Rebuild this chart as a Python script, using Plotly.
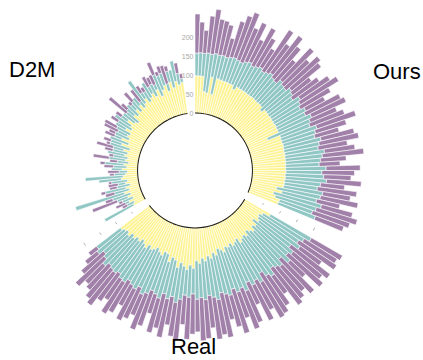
import plotly.graph_objects as go

groups = ["Ours", "Real", "D2M"]

# layer thickness per bar (inner yellow, middle teal, outer purple), clockwise from top
ours_yellow = [100,100,99,60,57,100,55,99,98,97,97,96,96,87,96,95,95,95,94,94,95,94,93,94,93,84,93,93,92,93,
               92,92,93,92,92,58,92,91,91,92,91,90,91,90,90,90,89,89,90,88,89,88,88,87,70,86,65,72,86,85]
ours_teal = [60,61,61,102,103,63,106,63,62,66,68,66,64,79,74,69,73,77,72,76,80,74,72,84,79,86,87,82,76,92,
             86,80,89,84,96,122,83,99,92,86,101,95,89,105,98,92,89,107,95,102,109,95,88,105,118,94,131,113,92,105]
ours_purple = [103,81,61,98,119,92,92,83,52,99,117,134,98,113,66,113,86,58,131,92,124,106,75,116,93,121,101,63,86,94,
               119,92,58,103,100,76,97,109,85,66,90,106,78,81,110,68,55,90,86,72,92,64,105,74,101,63,85,113,104,80]

real_yellow = [80,62,55,58,64,50,66,60,72,65,58,70,63,68,75,60,66,72,63,70,66,78,70,64,80,72,85,78,90,82,
               95,88,108,100,112,104,96,110,92,86,100,81,78,90,84,76,83,88,80,92,85,78,87,82,90,84,95,88,92,98]
real_teal = [125,128,125,134,106,136,112,135,100,123,124,106,131,117,95,132,114,116,112,125,117,112,108,128,106,108,111,110,92,110,
             91,102,68,85,68,88,106,78,104,99,100,111,108,108,121,114,117,106,108,106,110,108,105,107,94,111,85,84,93,80]
real_purple = [95,102,120,70,130,99,122,55,123,87,106,122,58,95,125,108,88,104,65,90,115,72,122,86,69,120,94,112,86,103,
               114,86,106,111,78,108,90,76,104,93,94,54,98,102,60,90,92,62,96,98,67,89,108,99,86,66,102,78,41,27]

d2m_yellow = [35,30,42,28,40,30,45,30,38,25,36,30,45,40,33,28,42,30,38,26,35,30,40,33,46,30,55,38,60,42,
              50,45,62,48,55,70,52,45,66,58,72,60,75,62,70,80,66,74,82,70,85,64,78,88,70,92,75,90,80,85]
d2m_teal = [86,20,10,30,30,50,135,40,55,35,20,42,60,100,30,22,28,35,50,30,44,38,45,40,28,55,30,52,20,40,
            28,40,30,42,50,20,38,40,24,39,18,35,25,20,72,18,30,44,20,35,15,60,40,34,20,30,48,55,30,10]
d2m_purple = [0,15,28,10,70,20,0,25,12,20,26,8,0,0,12,30,0,25,13,20,42,12,0,22,45,10,20,0,28,18,
              40,36,0,22,0,18,0,60,20,0,10,30,0,38,0,22,14,0,30,20,28,36,12,20,50,14,0,0,28,13]

radial_ticks = [0, 50, 100, 150, 200]
layer_names = ["yellow", "teal", "purple"]
colors = ["#FEF392", "#90C7C5", "#A180A9"]

n_bar = len(ours_yellow)
n_gap = 4
n_slot = 3 * (n_bar + n_gap)
w = 360.0 / n_slot

def thetas(g):
    start = g * (n_bar + n_gap)
    return [(start + i + 0.5) * w for i in range(n_bar)]

all_theta = thetas(0) + thetas(1) + thetas(2)
layers = [ours_yellow + real_yellow + d2m_yellow,
          ours_teal + real_teal + d2m_teal,
          ours_purple + real_purple + d2m_purple]

fig = go.Figure()
for name, vals, col in zip(layer_names, layers, colors):
    fig.add_trace(go.Barpolar(
        r=vals, theta=all_theta, width=[w] * len(all_theta), name=name,
        marker=dict(color=col, line=dict(color="white", width=0.6)),
        hoverinfo="skip"))

# black base arcs under each group
for g in range(3):
    start = g * (n_bar + n_gap) * w
    end = start + n_bar * w
    th = [start + (end - start) * k / 80 for k in range(81)]
    fig.add_trace(go.Scatterpolar(r=[0] * len(th), theta=th, mode="lines",
                                  line=dict(color="#222222", width=2), hoverinfo="skip"))

# small grid dashes in the lower gaps
for g in range(2):
    gc = (g * (n_bar + n_gap) + n_bar + n_gap / 2) * w
    for v in radial_ticks[1:]:
        fig.add_trace(go.Scatterpolar(r=[v, v], theta=[gc - 0.7, gc + 0.7], mode="lines",
                                      line=dict(color="#b0b0b0", width=1), hoverinfo="skip"))

fig.update_layout(
    width=423, height=360,
    margin=dict(l=0, r=0, t=0, b=0),
    paper_bgcolor="white", plot_bgcolor="white",
    showlegend=False,
    polar=dict(
        domain=dict(x=[24 / 423, 366 / 423], y=[19 / 360, 1.0]),
        bgcolor="white",
        hole=0.334,
        barmode="stack",
        bargap=0,
        angularaxis=dict(rotation=90, direction="clockwise", showline=False, showgrid=False,
                         showticklabels=False, ticks=""),
        radialaxis=dict(range=[0, 300], showline=False, showgrid=False, ticks="",
                        tickvals=radial_ticks, ticktext=[str(t) for t in radial_ticks],
                        tickfont=dict(size=7, color="#a8a8a8", family="Liberation Sans"),
                        angle=90, side="counterclockwise", tickangle=90),
    ),
    annotations=[
        dict(text="Ours", x=397 / 423, y=1 - 72 / 360, xref="paper", yref="paper", showarrow=False,
             xanchor="center", yanchor="middle",
             font=dict(size=22, color="black", family="Liberation Sans")),
        dict(text="Real", x=193 / 423, y=1 - 346 / 360, xref="paper", yref="paper", showarrow=False,
             xanchor="center", yanchor="middle",
             font=dict(size=22, color="black", family="Liberation Sans")),
        dict(text="D2M", x=32 / 423, y=1 - 70 / 360, xref="paper", yref="paper", showarrow=False,
             xanchor="center", yanchor="middle",
             font=dict(size=22, color="black", family="Liberation Sans")),
    ],
)

fig.write_html("out.html", config={"displayModeBar": False},
               post_script="document.body.style.margin='0px';")
